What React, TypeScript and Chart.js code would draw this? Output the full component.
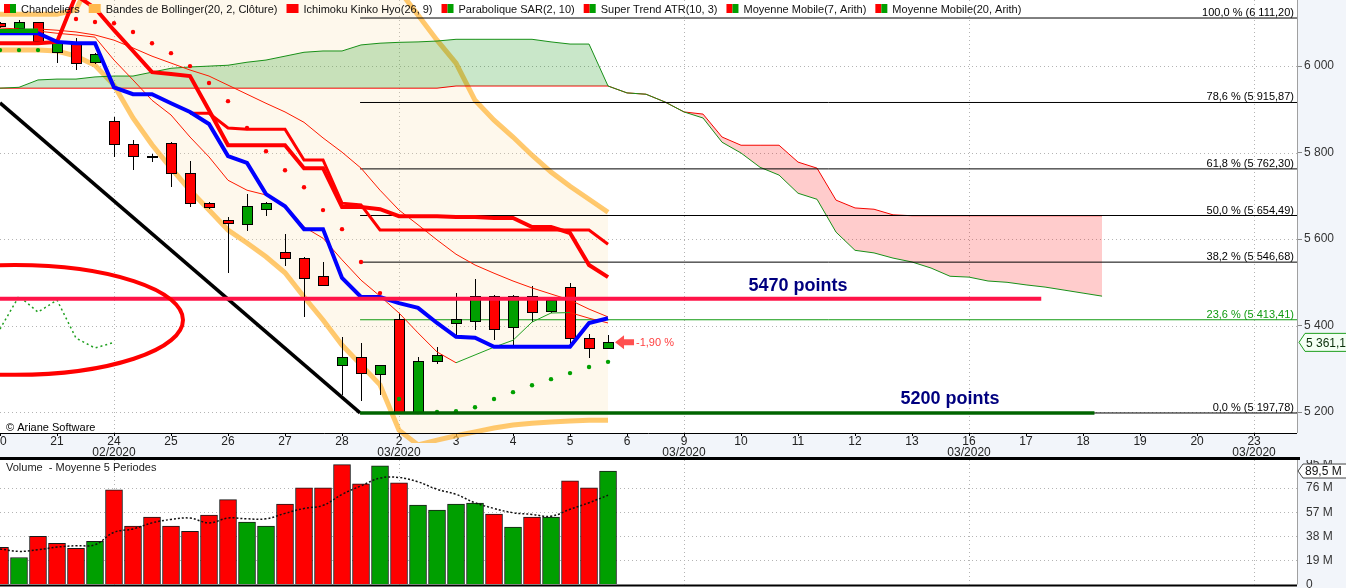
import React, { useEffect, useRef } from 'react';
import { Chart, registerables } from 'chart.js';

Chart.register(...registerables);

// ---------------- data ----------------
const dayIndex = [0, 3, 6, 9, 12, 15, 18, 21, 24, 27, 30, 33, 36, 39, 42, 45, 48, 51, 54, 57, 60, 63, 66];
const dayLabels = ['20', '21', '24', '25', '26', '27', '28', '2', '3', '4', '5', '6', '9', '10', '11', '12', '13', '16', '17', '18', '19', '20', '23'];
const monthLabels = ['', '', '02/2020', '', '', '', '', '03/2020', '', '', '', '', '03/2020', '', '', '', '', '03/2020', '', '', '', '', '03/2020'];
const weekStartIndex = [6, 21, 36, 51, 66];
const priceTicks = [5200, 5400, 5600, 5800, 6000];
const volumeTicks = [0, 19, 38, 57, 76, 95];

const opens = [6099, 6089, 6102, 6033, 6053, 6009, 5873, 5820, 5793, 5822, 5753, 5683, 5644, 5635, 5669, 5570, 5556, 5514, 5309, 5327, 5288, 5415, 5198, 5318, 5406, 5410, 5468, 5397, 5468, 5434, 5489, 5371, 5348];
const highs = [6103, 6106, 6103, 6062, 6065, 6030, 5882, 5829, 5797, 5824, 5780, 5686, 5651, 5704, 5686, 5612, 5558, 5547, 5373, 5360, 5309, 5429, 5327, 5350, 5475, 5508, 5470, 5470, 5491, 5459, 5498, 5380, 5378];
const lows = [6088, 6086, 6056, 6007, 5991, 6005, 5790, 5760, 5778, 5720, 5674, 5670, 5521, 5619, 5653, 5538, 5420, 5492, 5239, 5225, 5239, 5196, 5196, 5311, 5378, 5390, 5366, 5353, 5408, 5429, 5357, 5325, 5348];
const closes = [6092, 6102, 6058, 6053, 6007, 6028, 5820, 5792, 5791, 5753, 5683, 5674, 5637, 5676, 5683, 5556, 5510, 5494, 5327, 5290, 5309, 5198, 5318, 5332, 5415, 5468, 5392, 5468, 5431, 5459, 5371, 5348, 5361.1];

const volumes = [29.3, 21.3, 38.0, 32.4, 28.5, 34.1, 74.6, 46.0, 53.2, 46.0, 42.0, 54.7, 66.9, 49.2, 46.0, 63.5, 76.2, 76.2, 94.5, 79.4, 93.7, 80.1, 62.7, 58.7, 63.5, 64.3, 55.5, 45.2, 53.2, 53.2, 81.8, 76.2, 89.5];
const volumeMA5 = [28.1, 26.1, 27.4, 29.5, 30.6, 31.4, 41.2, 43.8, 48.6, 51.3, 52.4, 48.6, 52.4, 51.8, 51.8, 56.1, 60.0, 62.4, 71.1, 77.8, 83.9, 84.4, 81.0, 75.1, 71.1, 64.5, 60.0, 56.6, 55.3, 53.9, 59.3, 64.5, 70.4];

const bollUpper = [6120, 6120, 6120, 6120, 6130, 6222, 6240, 6260, 6270, 6280, 6290, 6300, 6300, 6300, 6290, 6280, 6270, 6260, 6250, 6230, 6200, 6176, 6118, 6060, 6007, 5921, 5875, 5836, 5794, 5755, 5722, 5692, 5662];
const bollLower = [6037, 6037, 6037, 6035, 6023, 6002, 5956, 5880, 5818, 5764, 5713, 5667, 5621, 5591, 5559, 5522, 5466, 5413, 5355, 5309, 5263, 5158, 5124, 5135, 5145, 5154, 5163, 5170, 5174, 5177, 5179, 5181, 5181];

const senkouA = [5949, 5951, 5968, 5970, 5970, 5975, 5977, 5977, 5986, 5995, 5998, 6000, 6002, 6009, 6014, 6023, 6032, 6035, 6035, 6049, 6053, 6055, 6056, 6058, 6062, 6062, 6062, 6062, 6062, 6056, 6051, 6051, 5954, 5938, 5935, 5917, 5894, 5880, 5824, 5799, 5766, 5748, 5706, 5692, 5616, 5574, 5568, 5556, 5547, 5533, 5514, 5512, 5503, 5500, 5494, 5489, 5482, 5475, 5468];
const senkouB = [5949, 5949, 5949, 5949, 5949, 5949, 5949, 5949, 5949, 5949, 5949, 5949, 5949, 5949, 5949, 5949, 5949, 5949, 5949, 5949, 5949, 5949, 5949, 5949, 5954, 5954, 5954, 5954, 5954, 5954, 5954, 5954, 5954, 5938, 5935, 5917, 5894, 5889, 5836, 5817, 5817, 5817, 5778, 5764, 5690, 5672, 5669, 5656, 5654, 5654, 5654, 5654, 5654, 5654, 5654, 5654, 5654, 5654, 5654];

const blueLine = [6076, 6076, 6076, 6056, 6053, 6053, 5951, 5935, 5935, 5914, 5894, 5866, 5792, 5776, 5704, 5676, 5623, 5623, 5510, 5466, 5466, 5452, 5441, 5406, 5374, 5372, 5351, 5351, 5351, 5351, 5351, 5406, 5417];
const redLineA = [6053, 6053, 6053, 6056, 6164, 6134, 6083, 6035, 5986, 5982, 5977, 5898, 5817, 5817, 5817, 5817, 5764, 5764, 5674, 5674, 5669, 5653, 5653, 5653, 5651, 5651, 5649, 5649, 5628, 5628, 5614, 5540, 5512];
const redLineB = [null, null, null, null, null, null, null, null, null, null, 5891, 5891, 5857, 5854, 5854, 5854, 5783, 5783, 5683, 5679, 5621, 5621, 5621, 5621, 5621, 5621, 5621, 5621, 5621, 5621, 5621, 5621, 5588];
const superTrendUp = [6081, 6081, 6081];
const mm7 = [6083, 6083, 6081, 6076, 6072, 6067, 6014, 5968, 5921, 5887, 5836, 5790, 5736, 5713, 5702, 5679, 5628, 5602, 5552, 5505, 5468, 5429, 5383, 5339, 5314, 5332, 5350, 5366, 5408, 5429, 5430, 5417, 5406];
const mm20 = [6088, 6086, 6086, 6083, 6079, 6072, 6060, 6042, 6023, 6007, 5991, 5977, 5956, 5935, 5914, 5894, 5870, 5834, 5801, 5764, 5713, 5667, 5633, 5598, 5565, 5540, 5521, 5503, 5487, 5473, 5459, 5438, 5420];
const sar = [6037, 6037, 6037, null, 6109, 6102, 6099, 6079, 6053, 6030, 6000, 5961, 5919, 5857, 5803, 5759, 5720, 5667, 5623, 5547, 5475, 5230, 5200, 5200, 5202, 5211, 5230, 5246, 5262, 5276, 5290, 5304, 5316];

const fibLevels = [6111.2, 5915.87, 5762.3, 5654.49, 5546.68, 5413.41, 5197.78];
const fibLabels = ['100,0 % (6 111,20)', '78,6 % (5 915,87)', '61,8 % (5 762,30)', '50,0 % (5 654,49)', '38,2 % (5 546,68)', '23,6 % (5 413,41)', '0,0 % (5 197,78)'];
const fibStartIndex = 18.95;
const trendStart = { x: 0, y: 5915 };
const trendEnd = { x: 18.95, y: 5198 };
const resistanceLevel = 5462;
const resistanceEndIndex = 54.8;
const supportEndIndex = 57.6;
const resistanceLabel = '5470 points';
const resistanceLabelPos = { x: 42, y: 5481 };
const supportLabel = '5200 points';
const supportLabelPos = { x: 50, y: 5218 };
const variationLabel = '-1,90 %';
const lastPriceLabel = '5 361,10';
const lastVolumeLabel = '89,5 M';
const ellipseCenter = { x: 0.79, y: 5413 };
const ellipseRadius = { x: 8.84, y: 127 };

const legendItems = [
  { label: 'Chandeliers', colors: ['#FF0000', '#009F00'] },
  { label: 'Bandes de Bollinger(20, 2, Clôture)', colors: ['#FFB84D'] },
  { label: 'Ichimoku Kinko Hyo(26, 9)', colors: ['#FF0000'] },
  { label: 'Parabolique SAR(2, 10)', colors: ['#FF0000', '#009F00'] },
  { label: 'Super Trend ATR(10, 3)', colors: ['#FF0000', '#009F00'] },
  { label: 'Moyenne Mobile(7, Arith)', colors: ['#FF0000', '#009F00'] },
  { label: 'Moyenne Mobile(20, Arith)', colors: ['#FF0000', '#009F00'] },
];

// ---------------- layout / style ----------------
const W = 1346;
const H_MAIN = 460;
const H_VOL = 128;
const RIGHT_W = 49;
const X_MAX = 68.26;
const PRICE_MIN = 5151.5;
const PRICE_MAX = 6152.9;
const VOL_MAX = 98.2;
const FONT = '"Liberation Sans", Arial, sans-serif';
const AXIS_BG = '#F2F5FA';
const RED = '#FF0000';
const GREEN = '#009F00';
const BOLL = 'rgba(255,178,50,0.7)';
const CREAM = 'rgba(250,225,170,0.22)';

function fmtNum(v: number, dec = 0): string {
  const neg = v < 0;
  const s = Math.abs(v).toFixed(dec);
  const [ip, fp] = s.split('.');
  const g = ip.replace(/\B(?=(\d{3})+(?!\d))/g, ' ');
  return (neg ? '-' : '') + g + (fp ? ',' + fp : '');
}

const pts = (arr: (number | null)[], start = 0) => arr.map((y, i) => ({ x: i + start, y }));

function lineDs(data: any[], color: string, width: number, order: number, extra: any = {}) {
  return { type: 'line', data, borderColor: color, backgroundColor: color, borderWidth: width, pointRadius: 0, fill: false, order, spanGaps: false, ...extra };
}

function seg(ctx: CanvasRenderingContext2D, x1: number, y1: number, x2: number, y2: number) {
  ctx.beginPath();
  ctx.moveTo(x1, y1);
  ctx.lineTo(x2, y2);
  ctx.stroke();
}

const noPad = (s: any) => {
  s.paddingLeft = 0;
  s.paddingRight = 0;
  s.paddingTop = 0;
  s.paddingBottom = 0;
};

// ---------------- main chart ----------------
function mainConfig(): any {
  const slopeColor = (c: any) => (c.p1.parsed.y >= c.p0.parsed.y ? '#20A020' : '#FF1a00');
  const fibSets = fibLevels.map((lv, k) =>
    lineDs([{ x: fibStartIndex, y: lv }, { x: X_MAX, y: lv }], k === 5 ? '#109A10' : '#000000', 1, 80)
  );
  const datasets: any[] = [
    lineDs(pts(bollUpper), BOLL, 5, 100, { fill: 1, backgroundColor: CREAM }),
    lineDs(pts(bollLower), BOLL, 5, 99, { clip: { left: 0, top: 0, right: 0, bottom: 10 } }),
    lineDs(pts(senkouB), '#FF0000', 1, 91),
    lineDs(pts(senkouA), '#189018', 1, 90, {
      fill: { target: 2, above: 'rgba(0,140,0,0.21)', below: 'rgba(255,0,0,0.2)' },
    }),
    ...fibSets,
    lineDs([trendStart, trendEnd], '#000000', 3.5, 70),
    { type: 'line', kind: 'candles', data: [], order: 60, pointRadius: 0, borderWidth: 0 },
    lineDs(pts(mm20), '#FF1a00', 1, 50, { segment: { borderColor: slopeColor } }),
    lineDs(pts(mm7), '#FF1a00', 1, 49, { segment: { borderColor: slopeColor } }),
    lineDs(closes.slice(26).map((c, k) => ({ x: k, y: c })), '#20A020', 1.5, 48, { borderDash: [2, 3] }),
    lineDs(pts(redLineB), RED, 3, 47),
    lineDs(pts(redLineA), RED, 4, 46),
    lineDs(pts(blueLine), '#0000FF', 4, 45),
    lineDs(pts(superTrendUp), '#00A000', 4, 44),
    {
      type: 'line', data: pts(sar), showLine: false, order: 40, pointRadius: 2.2, pointBorderWidth: 0,
      pointBackgroundColor: sar.map((v, i) => (v == null ? 'transparent' : v > highs[i] ? RED : '#00A000')),
      borderColor: 'transparent',
    },
    lineDs([{ x: fibStartIndex, y: fibLevels[6] }, { x: supportEndIndex, y: fibLevels[6] }], '#006400', 3.5, 21),
    lineDs([{ x: 0, y: resistanceLevel }, { x: resistanceEndIndex, y: resistanceLevel }], '#FF1448', 4, 20),
  ];

  const bgPlugin = {
    id: 'bg',
    beforeDraw(chart: any) {
      const { ctx, chartArea: ca, width, height } = chart;
      ctx.save();
      ctx.fillStyle = '#FFFFFF';
      ctx.fillRect(0, 0, width, height);
      ctx.fillStyle = AXIS_BG;
      ctx.fillRect(ca.right, 0, width - ca.right, height);
      ctx.fillRect(0, ca.bottom, ca.right, height - ca.bottom);
      ctx.restore();
    },
  };

  const gridPlugin = {
    id: 'grid',
    beforeDatasetsDraw(chart: any) {
      const { ctx, chartArea: ca, scales } = chart;
      const xs = scales.x, ys = scales.y;
      ctx.save();
      ctx.strokeStyle = '#B4B4B4';
      ctx.lineWidth = 1;
      ctx.setLineDash([1, 3]);
      priceTicks.forEach((v) => {
        const y = Math.round(ys.getPixelForValue(v)) + 0.5;
        seg(ctx, ca.left, y, ca.right, y);
      });
      weekStartIndex.forEach((i) => {
        const x = Math.round(xs.getPixelForValue(i)) + 0.5;
        seg(ctx, x, ca.top, x, ca.bottom);
      });
      ctx.restore();
    },
  };

  const candlePlugin = {
    id: 'candles',
    beforeDatasetDraw(chart: any, args: any) {
      const ds = chart.data.datasets[args.index];
      if (!ds || ds.kind !== 'candles') return;
      const { ctx, chartArea: ca, scales } = chart;
      const xs = scales.x, ys = scales.y;
      const bw = Math.round((xs.getPixelForValue(1) - xs.getPixelForValue(0)) * 0.54);
      ctx.save();
      ctx.beginPath();
      ctx.rect(ca.left, ca.top, ca.width, ca.height);
      ctx.clip();
      ctx.lineWidth = 1;
      ctx.strokeStyle = '#000';
      for (let i = 0; i < closes.length; i++) {
        const x = Math.round(xs.getPixelForValue(i)) + 0.5;
        const yH = ys.getPixelForValue(highs[i]);
        const yL = ys.getPixelForValue(lows[i]);
        const yO = ys.getPixelForValue(opens[i]);
        const yC = ys.getPixelForValue(closes[i]);
        ctx.beginPath();
        ctx.moveTo(x, Math.round(yH));
        ctx.lineTo(x, Math.round(yL));
        ctx.stroke();
        const top = Math.round(Math.min(yO, yC)) + 0.5;
        const h = Math.max(1, Math.round(Math.abs(yO - yC)));
        ctx.fillStyle = closes[i] >= opens[i] ? GREEN : RED;
        ctx.fillRect(x - bw / 2, top, bw, h);
        ctx.strokeRect(x - bw / 2, top, bw, h);
      }
      ctx.restore();
    },
  };

  const annotPlugin = {
    id: 'annot',
    afterDatasetsDraw(chart: any) {
      const { ctx, chartArea: ca, scales } = chart;
      const xs = scales.x, ys = scales.y;
      ctx.save();
      ctx.beginPath();
      ctx.rect(ca.left, ca.top, ca.width, ca.height);
      ctx.clip();
      const cx = xs.getPixelForValue(ellipseCenter.x);
      const cy = ys.getPixelForValue(ellipseCenter.y);
      const rx = xs.getPixelForValue(ellipseCenter.x + ellipseRadius.x) - cx;
      const ry = ys.getPixelForValue(ellipseCenter.y - ellipseRadius.y) - cy;
      ctx.beginPath();
      ctx.ellipse(cx, cy, rx, ry, 0, 0, Math.PI * 2);
      ctx.strokeStyle = '#FF0000';
      ctx.lineWidth = 4;
      ctx.stroke();
      ctx.font = `11px ${FONT}`;
      ctx.textAlign = 'right';
      ctx.textBaseline = 'alphabetic';
      fibLevels.forEach((lv, k) => {
        ctx.fillStyle = k === 5 ? '#109A10' : '#000';
        ctx.fillText(fibLabels[k], ca.right - 3, ys.getPixelForValue(lv) - 2);
      });
      ctx.font = `bold 18px ${FONT}`;
      ctx.fillStyle = '#00007F';
      ctx.textAlign = 'center';
      ctx.fillText(resistanceLabel, xs.getPixelForValue(resistanceLabelPos.x), ys.getPixelForValue(resistanceLabelPos.y));
      ctx.fillText(supportLabel, xs.getPixelForValue(supportLabelPos.x), ys.getPixelForValue(supportLabelPos.y));
      const last = closes.length - 1;
      const ax = xs.getPixelForValue(last) + 7;
      const ay = ys.getPixelForValue(closes[last]);
      ctx.fillStyle = '#FF5050';
      ctx.beginPath();
      ctx.moveTo(ax, ay);
      ctx.lineTo(ax + 9, ay - 7);
      ctx.lineTo(ax + 9, ay - 3);
      ctx.lineTo(ax + 19, ay - 3);
      ctx.lineTo(ax + 19, ay + 3);
      ctx.lineTo(ax + 9, ay + 3);
      ctx.lineTo(ax + 9, ay + 7);
      ctx.closePath();
      ctx.fill();
      ctx.font = `11px ${FONT}`;
      ctx.textAlign = 'left';
      ctx.textBaseline = 'middle';
      ctx.fillStyle = '#FF4040';
      ctx.fillText(variationLabel, ax + 21, ay + 1);
      ctx.fillStyle = '#000';
      ctx.textBaseline = 'alphabetic';
      ctx.fillText('© Ariane Software', 6, ca.bottom - 2);
      ctx.restore();
    },
    afterDraw(chart: any) {
      const { ctx, chartArea: ca, scales, width, height } = chart;
      const ys = scales.y;
      ctx.save();
      ctx.strokeStyle = '#A0A0A0';
      ctx.lineWidth = 1;
      seg(ctx, ca.right + 0.5, 0, ca.right + 0.5, ca.bottom);
      ctx.strokeStyle = '#000';
      seg(ctx, 0, ca.bottom + 0.5, ca.right, ca.bottom + 0.5);
      ctx.fillStyle = '#000';
      ctx.fillRect(0, height - 3, ca.right + 3, 3);
      ctx.font = `11px ${FONT}`;
      ctx.textAlign = 'left';
      ctx.textBaseline = 'alphabetic';
      let x = 4;
      legendItems.forEach((it) => {
        if (it.colors.length === 2) {
          ctx.fillStyle = it.colors[0];
          ctx.fillRect(x, 4, 6, 9);
          ctx.fillStyle = it.colors[1];
          ctx.fillRect(x + 6, 4, 6, 9);
        } else {
          ctx.fillStyle = it.colors[0];
          ctx.fillRect(x, 4, 12, 9);
        }
        x += 17;
        ctx.fillStyle = '#111';
        ctx.fillText(it.label, x, 13);
        x += ctx.measureText(it.label).width + 9;
      });
      const ty = ys.getPixelForValue(closes[closes.length - 1]);
      const tx = ca.right + 2;
      ctx.beginPath();
      ctx.moveTo(tx, ty);
      ctx.lineTo(tx + 6, ty - 9);
      ctx.lineTo(width + 2, ty - 9);
      ctx.lineTo(width + 2, ty + 9);
      ctx.lineTo(tx + 6, ty + 9);
      ctx.closePath();
      ctx.fillStyle = '#F4FFF4';
      ctx.fill();
      ctx.strokeStyle = '#1E9E1E';
      ctx.lineWidth = 1;
      ctx.stroke();
      ctx.font = `12px ${FONT}`;
      ctx.fillStyle = '#0A300A';
      ctx.textBaseline = 'middle';
      ctx.fillText(lastPriceLabel, tx + 7, ty + 1);
      ctx.restore();
    },
  };

  return {
    type: 'line',
    data: { datasets },
    options: {
      animation: false,
      responsive: false,
      events: [],
      layout: { padding: 0, autoPadding: false },
      plugins: { legend: { display: false }, tooltip: { enabled: false } },
      scales: {
        x: {
          type: 'linear',
          min: 0,
          max: X_MAX,
          offset: false,
          afterFit: (s: any) => { s.height = 27; noPad(s); },
          afterBuildTicks: (s: any) => { s.ticks = dayIndex.map((v) => ({ value: v })); },
          ticks: {
            autoSkip: false,
            maxRotation: 0,
            padding: 0,
            color: '#222',
            font: { size: 12, family: FONT, lineHeight: '11px' },
            callback: (_v: any, i: number) => (monthLabels[i] ? [dayLabels[i], monthLabels[i]] : dayLabels[i]),
          },
          grid: { drawOnChartArea: false, tickLength: 3, tickColor: '#000' },
          border: { display: false },
        },
        y: {
          position: 'right',
          min: PRICE_MIN,
          max: PRICE_MAX,
          afterFit: (s: any) => { s.width = RIGHT_W; noPad(s); },
          afterBuildTicks: (s: any) => { s.ticks = priceTicks.map((v) => ({ value: v })); },
          ticks: { padding: 2, color: '#333', font: { size: 12, family: FONT }, callback: (v: any) => fmtNum(Number(v)) },
          grid: { drawOnChartArea: false, tickLength: 5, tickColor: '#888' },
          border: { display: false },
        },
      },
    },
    plugins: [bgPlugin, gridPlugin, candlePlugin, annotPlugin],
  };
}

// ---------------- volume chart ----------------
function volConfig(): any {
  const volColors = closes.map((c, i) => (i > 0 && c > closes[i - 1] ? GREEN : RED));
  const bgPlugin = {
    id: 'vbg',
    beforeDraw(chart: any) {
      const { ctx, chartArea: ca, width, height } = chart;
      ctx.save();
      ctx.fillStyle = '#FFFFFF';
      ctx.fillRect(0, 0, width, height);
      ctx.fillStyle = AXIS_BG;
      ctx.fillRect(ca.right, 0, width - ca.right, height);
      ctx.restore();
    },
    beforeDatasetsDraw(chart: any) {
      const { ctx, chartArea: ca, scales } = chart;
      ctx.save();
      ctx.strokeStyle = '#B4B4B4';
      ctx.lineWidth = 1;
      ctx.setLineDash([1, 3]);
      volumeTicks.slice(1, 5).forEach((v) => {
        const y = Math.round(scales.y.getPixelForValue(v)) + 0.5;
        seg(ctx, ca.left, y, ca.right, y);
      });
      weekStartIndex.forEach((i) => {
        const x = Math.round(scales.x.getPixelForValue(i)) + 0.5;
        seg(ctx, x, ca.top, x, ca.bottom);
      });
      ctx.restore();
    },
    afterDraw(chart: any) {
      const { ctx, chartArea: ca, scales, width } = chart;
      ctx.save();
      ctx.strokeStyle = '#A0A0A0';
      ctx.lineWidth = 1;
      seg(ctx, ca.right + 0.5, 0, ca.right + 0.5, ca.bottom);
      ctx.fillStyle = '#000';
      ctx.fillRect(0, ca.bottom, ca.right, 2);
      ctx.font = `11px ${FONT}`;
      ctx.fillStyle = '#222';
      ctx.textAlign = 'left';
      ctx.textBaseline = 'middle';
      ctx.fillText('Volume  - Moyenne 5 Periodes', 6, 8);
      const ty = scales.y.getPixelForValue(volumes[volumes.length - 1]);
      const tx = ca.right + 1;
      ctx.beginPath();
      ctx.moveTo(tx, ty);
      ctx.lineTo(tx + 5, ty - 7);
      ctx.lineTo(width + 2, ty - 7);
      ctx.lineTo(width + 2, ty + 7);
      ctx.lineTo(tx + 5, ty + 7);
      ctx.closePath();
      ctx.fillStyle = '#FFFFFF';
      ctx.fill();
      ctx.strokeStyle = '#444';
      ctx.stroke();
      ctx.font = `12px ${FONT}`;
      ctx.fillStyle = '#111';
      ctx.fillText(lastVolumeLabel, tx + 7, ty + 1);
      ctx.restore();
    },
  };
  return {
    type: 'bar',
    data: {
      datasets: [
        { type: 'line', data: pts(volumeMA5), borderColor: '#111', borderWidth: 1.5, borderDash: [2, 2], pointRadius: 0, tension: 0.4, order: 0 },
        { type: 'bar', data: pts(volumes), backgroundColor: volColors, borderColor: '#1a1a1a', borderWidth: 1, barThickness: 17, order: 1 },
      ],
    },
    options: {
      animation: false,
      responsive: false,
      events: [],
      layout: { padding: { top: 0, left: 0, right: 0, bottom: 3.5 }, autoPadding: false },
      plugins: { legend: { display: false }, tooltip: { enabled: false } },
      scales: {
        x: { type: 'linear', min: 0, max: X_MAX, offset: false, display: false, afterFit: noPad },
        y: {
          position: 'right',
          min: 0,
          max: VOL_MAX,
          afterFit: (s: any) => { s.width = RIGHT_W; noPad(s); },
          afterBuildTicks: (s: any) => { s.ticks = volumeTicks.map((v) => ({ value: v })); },
          ticks: { padding: 9, color: '#333', font: { size: 12, family: FONT }, callback: (v: any) => (Number(v) === 0 ? '0' : v + ' M') },
          grid: { drawOnChartArea: false, drawTicks: false },
          border: { display: false },
        },
      },
    },
    plugins: [bgPlugin],
  };
}

export default function App() {
  const mainRef = useRef<HTMLCanvasElement>(null);
  const volRef = useRef<HTMLCanvasElement>(null);
  useEffect(() => {
    const main = new Chart(mainRef.current as HTMLCanvasElement, mainConfig());
    const vol = new Chart(volRef.current as HTMLCanvasElement, volConfig());
    return () => {
      main.destroy();
      vol.destroy();
    };
  }, []);
  return (
    <div style={{ position: 'fixed', left: 0, top: 0, width: W, height: H_MAIN + H_VOL, background: '#fff' }}>
      <canvas ref={mainRef} width={W} height={H_MAIN} style={{ position: 'absolute', left: 0, top: 0, width: W, height: H_MAIN }} />
      <canvas ref={volRef} width={W} height={H_VOL} style={{ position: 'absolute', left: 0, top: H_MAIN, width: W, height: H_VOL }} />
    </div>
  );
}
